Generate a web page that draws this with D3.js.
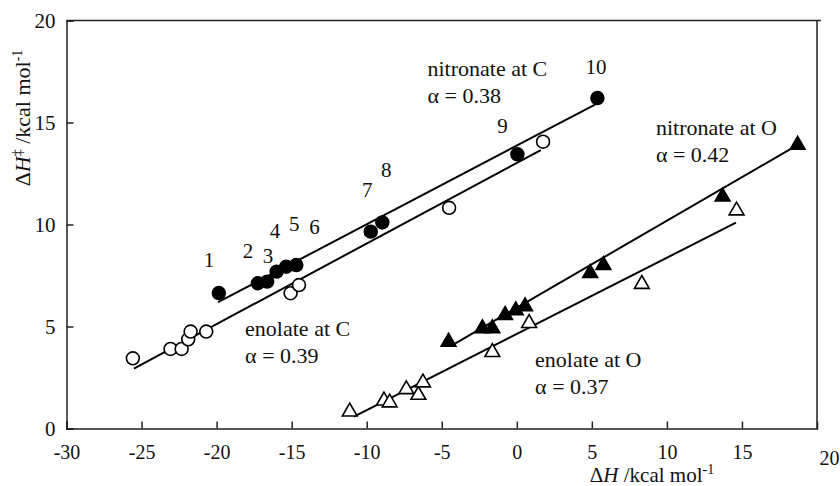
<!DOCTYPE html>
<html><head><meta charset="utf-8">
<script src="https://cdn.jsdelivr.net/npm/d3@7"></script>
<style>
html,body{margin:0;padding:0;background:#fff;}
svg text{font-family:'Liberation Serif',Tinos,'DejaVu Serif',serif;fill:#111;}
</style></head>
<body><svg id="c" width="840" height="486"></svg>
<script>
// ---- data (ΔH, ΔH‡) ----
const nitronateC = [[-19.85,6.64],[-17.25,7.12],[-16.63,7.2],[-16.0,7.69],[-15.36,7.93],[-14.69,8.01],[-9.73,9.65],[-8.96,10.1],[0.04,13.44],[5.37,16.2]];
const enolateC = [[-25.58,3.44],[-23.07,3.9],[-22.33,3.9],[-21.89,4.37],[-21.73,4.75],[-20.69,4.75],[-15.07,6.63],[-14.51,7.03],[-4.51,10.82],[1.75,14.06]];
const nitronateO = [[-4.55,4.25],[-2.29,4.91],[-1.63,4.91],[-0.78,5.56],[-0.07,5.79],[0.55,5.98],[4.89,7.61],[5.77,8.01],[13.71,11.36],[18.71,13.9]];
const enolateO = [[-11.13,0.82],[-8.85,1.36],[-8.47,1.27],[-7.36,1.92],[-6.56,1.64],[-6.25,2.25],[-1.63,3.74],[0.82,5.16],[8.33,7.08],[14.64,10.68]];
// fitted lines: [x1,y1,x2,y2]
const fitNitronateC = [-19.9,6.19,5.37,15.94];
const fitEnolateC = [-25.51,2.94,1.6,13.65];
const fitNitronateO = [-4.29,4.09,18.71,13.9];
const fitEnolateO = [-10.85,0.58,14.6,10.09];
// numbered point labels (data coords)
const numLabels = [["1",-20.51,8.26],["2",-17.91,8.72],["3",-16.58,8.46],["4",-16.11,9.68],["5",-14.82,10.04],["6",-13.47,9.88],["7",-9.96,11.69],["8",-8.69,12.67],["9",-0.96,14.84],["10",5.27,17.74]];
// series annotations: name, alpha, x, y (data coords of first-line baseline, left)
const seriesLabels = [["nitronate at C","α = 0.38",-5.95,17.3],["nitronate at O","α = 0.42",9.27,14.4],["enolate at C","α = 0.39",-18.1,4.54],["enolate at O","α = 0.37",1.22,3.0]];
const xTicks = [-30,-25,-20,-15,-10,-5,0,5,10,15,20];
const yTicks = [0,5,10,15,20];

const FONT = "'Liberation Serif', Tinos, 'DejaVu Serif', serif";
const svg = d3.select("#c");
const x = d3.scaleLinear().domain([-30,20]).range([66.5,817]);
const y = d3.scaleLinear().domain([0,20]).range([428.5,20.5]);
const FS = 22, TFS = 20;

// frame (top and right)
svg.append("path").attr("d",`M${x(-30)},${y(20)}H${x(20)+4}M${x(20)},${y(20)}V${y(0)}`)
  .attr("stroke","#222").attr("stroke-width",1.5).attr("fill","none");

// x axis
const gx = svg.append("g").attr("transform",`translate(0,${y(0)})`)
  .call(d3.axisBottom(x).tickValues(xTicks).tickSize(-7).tickPadding(16).tickFormat(d=>String(d)));
gx.select(".domain").attr("stroke","#222").attr("stroke-width",1.5);
gx.selectAll(".tick line").attr("stroke","#222").attr("stroke-width",1.5);
gx.selectAll(".tick text").attr("font-size",TFS).attr("font-family",FONT).attr("fill","#111");
gx.selectAll(".tick").filter(d=>d===20).select("text").attr("dx",12).attr("dy","1.0em");
gx.selectAll(".tick").filter(d=>d===20).select("line").remove();

// y axis
const gy = svg.append("g").attr("transform",`translate(${x(-30)},0)`)
  .call(d3.axisLeft(y).tickValues(yTicks).tickSize(-7).tickPadding(11).tickFormat(d=>String(d)));
gy.select(".domain").attr("stroke","#222").attr("stroke-width",1.5);
gy.selectAll(".tick line").attr("stroke","#222").attr("stroke-width",1.5);
gy.selectAll(".tick text").attr("font-size",TFS+1).attr("font-family",FONT).attr("fill","#111");

// axis titles
const xt = svg.append("text").attr("x",652).attr("y",481.5).attr("text-anchor","middle").attr("font-size",21);
xt.append("tspan").text("Δ");
xt.append("tspan").attr("font-style","italic").text("H");
xt.append("tspan").text(" /kcal mol");
xt.append("tspan").attr("font-size",14).attr("dy",-8).text("-1");

const yt = svg.append("text").attr("transform","translate(30,118) rotate(-90)").attr("text-anchor","middle").attr("font-size",FS);
yt.append("tspan").text("Δ");
yt.append("tspan").attr("font-style","italic").text("H");
yt.append("tspan").attr("font-size",14).attr("dy",-8).text("‡");
yt.append("tspan").attr("dy",8).text(" /kcal mol");
yt.append("tspan").attr("font-size",14).attr("dy",-8).text("-1");

// fit lines
[fitNitronateC,fitEnolateC,fitNitronateO,fitEnolateO].forEach(f=>{
  svg.append("line").attr("x1",x(f[0])).attr("y1",y(f[1])).attr("x2",x(f[2])).attr("y2",y(f[3]))
    .attr("stroke","#000").attr("stroke-width",2);
});

// markers
const circ = d3.symbol().type(d3.symbolCircle).size(130);
const tri = d3.symbol().type(d3.symbolTriangle).size(95);
function markers(data, sym, fill){
  svg.append("g").selectAll("path").data(data).join("path")
    .attr("d",sym).attr("transform",d=>`translate(${x(d[0])},${y(d[1])})`)
    .attr("fill",fill).attr("stroke","#000").attr("stroke-width",1.6);
}
markers(enolateC, circ, "#fff");
markers(nitronateC, circ, "#000");
markers(enolateO, tri, "#fff");
markers(nitronateO, tri, "#000");

// numbered labels
svg.append("g").selectAll("text").data(numLabels).join("text")
  .attr("x",d=>x(d[1])).attr("y",d=>y(d[2])).attr("dy","0.35em")
  .attr("text-anchor","middle").attr("font-size",21).text(d=>d[0]);

// series labels
seriesLabels.forEach(s=>{
  const t = svg.append("text").attr("x",x(s[2])).attr("y",y(s[3])).attr("font-size",FS);
  t.append("tspan").attr("x",x(s[2])).text(s[0]);
  t.append("tspan").attr("x",x(s[2])).attr("dy",27).text(s[1]);
});
</script></body></html>
